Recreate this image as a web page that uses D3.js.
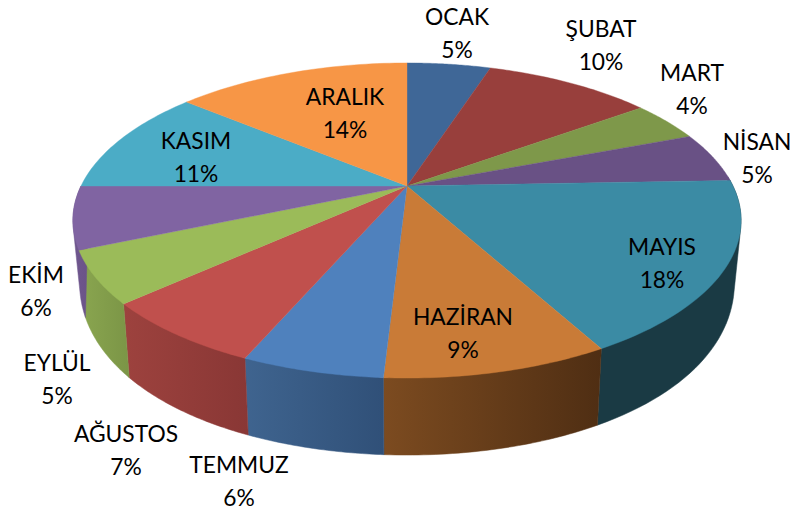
<!DOCTYPE html>
<html><head><meta charset="utf-8">
<style>html,body{margin:0;padding:0;background:#fff}svg{display:block}text{font-family:Lato,"Open Sans",sans-serif;font-size:22.8px;fill:#000}</style>
<script src="https://cdnjs.cloudflare.com/ajax/libs/d3/7.8.5/d3.min.js"></script>
</head><body><div id="chart"></div>
<script>
const months = ["OCAK","ŞUBAT","MART","NİSAN","MAYIS","HAZİRAN","TEMMUZ","AĞUSTOS","EYLÜL","EKİM","KASIM","ARALIK"];
const values = [5,10,4.2,5.2,17.6,8.9,5.6,6.8,5.3,6.4,11,14];
const percentLabels = ["5%","10%","4%","5%","18%","9%","6%","7%","5%","6%","11%","14%"];
const topColors = ["#3f6797","#983f3c","#7e984a","#695185","#3b8ba4","#c97b37","#4f81bd","#c0504d","#9bbb59","#8064a2","#4bacc6","#f79646"];
const wallLeft  = ["#3f6797","#983f3c","#7e984a","#695185","#1a3a44","#7c4b20","#3f648f","#9d423e","#8aa650","#6f578f","#4bacc6","#f79646"];
const wallRight = ["#3f6797","#983f3c","#7e984a","#695185","#1a3a44","#4f2e13","#305078","#893735","#7b9546","#6b5388","#4bacc6","#f79646"];
const labelXY = [[457,17],[601,29],[692,73],[757,142],[662,247],[463,317],[239,465],[126,434],[57,363],[36,275],[196,141],[345,97]];

const W=793,H=513,cx=407,cy=186,R=326,B=150,K=0.219;
const project=(a,r=1)=>{const x=r*Math.sin(a),y=-r*Math.cos(a),d=1-K*y;return [cx+R*x/d,cy+B*y/d];};
const lower=([x,y])=>{const t=378-y;return [cx+0.98*(x-cx),y+77-0.0006*t*t];};
const svg=d3.select("#chart").append("svg").attr("width",W).attr("height",H);
const defs=svg.append("defs");
const line=d3.line();
const arcs=d3.pie().sort(null).value(d=>d)(values);
const sample=(a0,a1)=>d3.range(0,41).map(i=>a0+(a1-a0)*i/40);
const wallMin=Math.PI*0.48,wallMax=Math.PI*1.5;

arcs.forEach((s,i)=>{
  const a0=Math.max(s.startAngle,wallMin),a1=Math.min(s.endAngle,wallMax);
  if(a1<=a0)return;
  const topPts=sample(a0,a1).map(a=>project(a));
  const botPts=topPts.map(lower);
  const hull=d3.polygonHull(topPts.concat(botPts));
  const xs=hull.map(p=>p[0]);
  const g=defs.append("linearGradient").attr("id","w"+i).attr("gradientUnits","userSpaceOnUse")
    .attr("x1",d3.min(xs)).attr("x2",d3.max(xs)).attr("y1",0).attr("y2",0);
  g.append("stop").attr("offset",0).attr("stop-color",wallLeft[i]);
  g.append("stop").attr("offset",1).attr("stop-color",wallRight[i]);
  svg.append("path").attr("d",line(hull)+"Z")
    .attr("fill",`url(#w${i})`).attr("stroke",`url(#w${i})`).attr("stroke-width",0.5);
});
arcs.forEach((s,i)=>{
  const pts=[[cx,cy]].concat(sample(s.startAngle,s.endAngle).map(a=>project(a)));
  svg.append("path").attr("d",line(pts)+"Z").attr("fill",topColors[i]).attr("stroke",topColors[i]).attr("stroke-width",0.4);
});
months.forEach((m,i)=>{
  const [x,y]=labelXY[i];
  const t=svg.append("text").attr("text-anchor","middle");
  t.append("tspan").attr("x",x).attr("y",y+8).text(m);
  t.append("tspan").attr("x",x).attr("y",y+40.5).text(percentLabels[i]);
});
</script></body></html>
